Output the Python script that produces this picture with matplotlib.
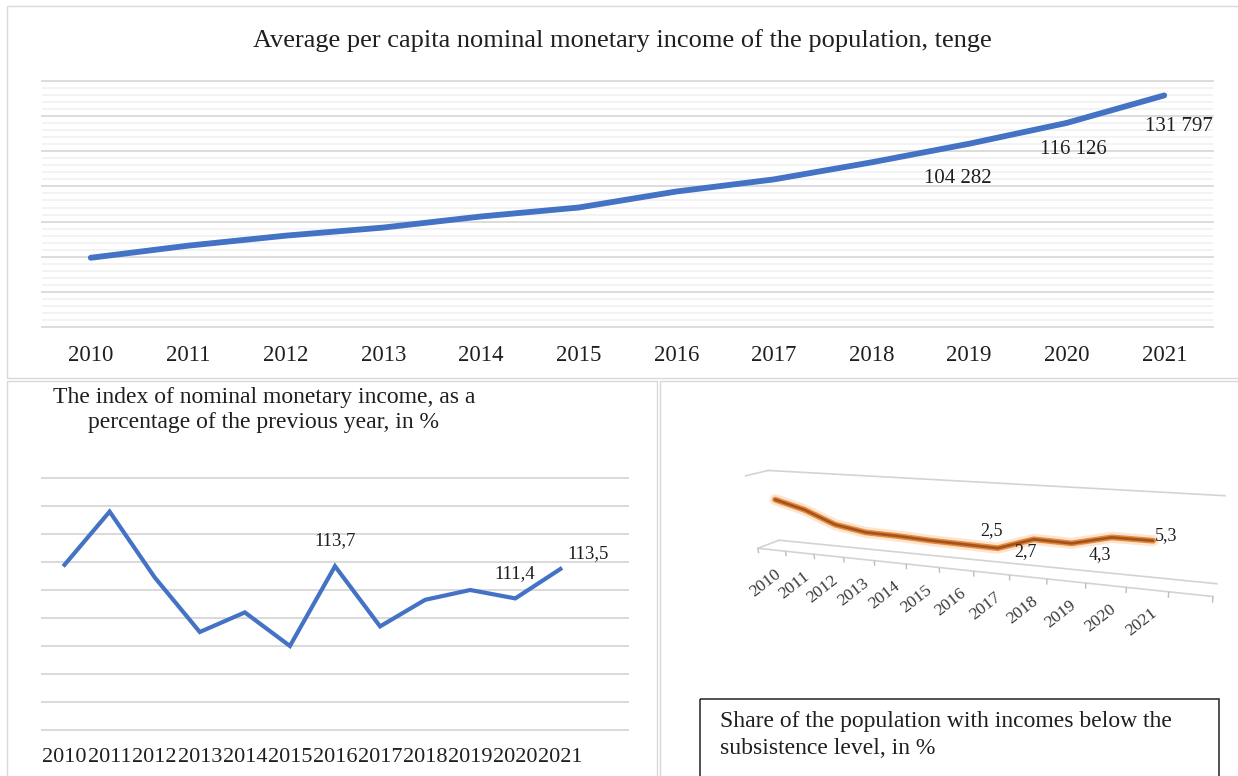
import numpy as np
import matplotlib
matplotlib.use("Agg")
import matplotlib.pyplot as plt
import matplotlib.transforms as mtransforms
from matplotlib.collections import LineCollection
from matplotlib.patches import Rectangle
from matplotlib.ticker import MultipleLocator

# DATA

years = [str(y) for y in range(2010, 2022)]

# average per capita nominal income, tenge
income = [39400, 46300, 52000, 56600, 62900, 68000, 77100, 84000, 93700, 104282, 116126, 131797]
income_labelled = [9, 10, 11]

# index of nominal income, % of previous year
income_index = [113.8, 117.6, 112.9, 109.0, 110.4, 108.0, 113.7, 109.4, 111.3, 112.0, 111.4, 113.5]
index_labelled = [6, 10, 11]

# share of population below subsistence level, %
poverty = [6.5, 5.4, 3.7, 3.0, 2.9, 2.7, 2.6, 2.5, 4.0, 3.9, 5.0, 5.0]
poverty_labelled = [7, 8, 10, 11]
poverty_label_text = ["2,5", "2,7", "4,3", "5,3"]

title_top = "Average per capita nominal monetary income of the population, tenge"
title_left = "The index of nominal monetary income, as a\npercentage of the previous year, in %"
caption_right = "Share of the population with incomes below the\nsubsistence level, in %"

# LAYOUT / STYLE

W, H = 1238, 776
SERIF = "Liberation Serif"
TXT = "#1f1f1f"
BLUE = "#4472C4"
GRID = "#D9D9D9"
plt.rcParams["font.family"] = [SERIF, "DejaVu Serif"]


def px_box(x0, y0, x1, y1):
    return [x0 / W, 1 - y1 / H, (x1 - x0) / W, (y1 - y0) / H]


# Perspective plane -> image pixel transform (for the 3-D looking panel).
class PlaneProjection(mtransforms.Transform):
    input_dims = 2
    output_dims = 2

    def __init__(self, hmat):
        super().__init__()
        self._h = hmat

    def transform_non_affine(self, values):
        pts = np.asarray(values, float)
        flat = pts.ndim == 1
        pts = pts.reshape(-1, 2)
        q = np.column_stack([pts, np.ones(len(pts))]) @ self._h.T
        out = q[:, :2] / q[:, 2:]
        return out[0] if flat else out


def fit_camera(world, image):
    world = np.asarray(world, float)
    image = np.asarray(image, float)
    c = image.mean(axis=0)
    s = image.std()
    norm = np.array([[1 / s, 0, -c[0] / s], [0, 1 / s, -c[1] / s], [0, 0, 1]])
    img_n = (image - c) / s
    rows = []
    for X, (x, y) in zip(np.column_stack([world, np.ones(len(world))]), img_n):
        rows.append(np.r_[X, np.zeros(4), -x * X])
        rows.append(np.r_[np.zeros(4), X, -y * X])
    _, _, vt = np.linalg.svd(np.array(rows))
    return np.linalg.inv(norm) @ vt[-1].reshape(3, 4)


# chart box corners (category u 0..13, depth d 0..1, value v 0..10) -> pixels
CAM = fit_camera(
    [(0, 0, 0), (13, 0, 0), (0, 1, 0), (13, 1, 0), (0, 1, 10), (13, 1, 10), (0, 0, 10), (6.5, 0, 0)],
    [(757, 548), (1213, 596), (780, 540), (1217, 583), (767, 471), (1225, 496), (747, 475), (956, 571)],
)


def depth_plane(d):
    m = np.array([[1, 0, 0], [0, 0, d], [0, 1, 0], [0, 0, 1]], float)
    return PlaneProjection(CAM @ m)


def side_plane(u0):
    m = np.array([[0, 0, u0], [1, 0, 0], [0, 1, 0], [0, 0, 1]], float)
    return PlaneProjection(CAM @ m)


# FIGURE

fig = plt.figure(figsize=(W / 100, H / 100), dpi=100)
fig.patch.set_facecolor("white")

canvas = fig.add_axes([0, 0, 1, 1])
canvas.set_xlim(0, W)
canvas.set_ylim(H, 0)
canvas.axis("off")

# panel frames
for x0, y0, x1, y1 in [(7, 6, 1250, 378), (7, 381, 657, 800), (660, 381, 1250, 800)]:
    canvas.add_patch(Rectangle((x0, y0), x1 - x0, y1 - y0, fill=False,
                               edgecolor=GRID, linewidth=1.0, clip_on=False))

# --- top: average income ---
ax1 = fig.add_axes(px_box(42, 81, 1213, 327))
xs = np.arange(len(years))
ax1.plot(xs, income, color=BLUE, linewidth=4.2, solid_capstyle="round", solid_joinstyle="round")
ax1.set_xlim(-0.5, len(years) - 0.5)
ax1.set_ylim(0, 140000)
ax1.yaxis.set_major_locator(MultipleLocator(20000))
ax1.yaxis.set_minor_locator(MultipleLocator(4000))
ax1.grid(True, which="major", axis="y", color=GRID, linewidth=1.3)
ax1.grid(True, which="minor", axis="y", color="#F2F2F2", linewidth=1.3)
ax1.set_axisbelow(True)
for ln in ax1.get_ygridlines():
    ln.set_clip_on(False)
ax1.set_xticks(xs)
ax1.set_xticklabels(years, fontsize=16.5, color=TXT)
ax1.tick_params(axis="x", length=0, pad=13)
ax1.tick_params(axis="y", which="both", length=0, labelleft=False)
for sp in ax1.spines.values():
    sp.set_visible(False)
ax1.patch.set_alpha(0)

income_offsets = [(-11, -35), (7, -27), (15, -31)]
for i, off in zip(income_labelled, income_offsets):
    ax1.annotate(f"{income[i]:,}".replace(",", " "), (xs[i], income[i]), xytext=off,
                 textcoords="offset pixels", ha="center", va="center", fontsize=15, color=TXT)

canvas.text(622, 41, title_top, ha="center", va="center", fontsize=19, color=TXT)

# --- bottom left: income index ---
ax2 = fig.add_axes(px_box(42, 478, 628, 730))
ax2.plot(xs, income_index, color=BLUE, linewidth=3.0, solid_joinstyle="miter")
ax2.set_xlim(-0.5, len(years) + 0.5)
ax2.set_ylim(102, 120)
ax2.yaxis.set_major_locator(MultipleLocator(2))
ax2.grid(True, axis="y", color=GRID, linewidth=1.4)
ax2.set_axisbelow(True)
for ln in ax2.get_ygridlines():
    ln.set_clip_on(False)
ax2.set_xticks(xs)
ax2.set_xticklabels(years, fontsize=16, color=TXT)
ax2.tick_params(axis="x", length=0, pad=13)
ax2.tick_params(axis="y", length=0, labelleft=False)
for sp in ax2.spines.values():
    sp.set_visible(False)
ax2.patch.set_alpha(0)

index_offsets = [(0, 26), (-1, 25), (28, 15)]
for i, off in zip(index_labelled, index_offsets):
    ax2.annotate(f"{income_index[i]:.1f}".replace(".", ","), (xs[i], income_index[i]), xytext=off,
                 textcoords="offset pixels", ha="center", va="center", fontsize=13.5, color=TXT)

canvas.text(264, 410, title_left, ha="center", va="center", fontsize=17,
            color=TXT, linespacing=1.25)

# --- bottom right: poverty share, drawn in perspective ---
front = depth_plane(0) + canvas.transData
back = depth_plane(1) + canvas.transData
mid = depth_plane(0.5) + canvas.transData
side = side_plane(0) + canvas.transData
n_slots = len(years) + 1
vmax = 10

gray3d = dict(color="#D3D3D3", linewidth=1.2, clip_on=False)
canvas.plot([0, n_slots], [0, 0], transform=front, **gray3d)
canvas.plot([0, n_slots], [0, 0], transform=back, **gray3d)
canvas.plot([0, 1], [0, 0], transform=side, **gray3d)
canvas.plot([0, n_slots], [vmax, vmax], transform=back, **gray3d)
canvas.plot([0, 1], [vmax, vmax], transform=side, **gray3d)
ticks = [[(u, 0), (u, -0.7)] for u in range(n_slots + 1)]
canvas.add_collection(LineCollection(ticks, colors="#BDBDBD", linewidths=1.0,
                                     transform=front, clip_on=False))

ux = xs + 0.5
canvas.plot(ux, poverty, transform=mid, color="#FCE4CF", linewidth=8.0,
            solid_capstyle="round", solid_joinstyle="round", clip_on=False)
canvas.plot(ux, poverty, transform=mid, color="#E58C3E", linewidth=4.2,
            solid_capstyle="round", solid_joinstyle="round", clip_on=False)
canvas.plot(ux, poverty, transform=mid, color="#A4531F", linewidth=2.0,
            solid_capstyle="round", solid_joinstyle="round", clip_on=False)

for u, yr in zip(ux, years):
    canvas.annotate(yr, (u, 0), xycoords=front, xytext=(3, -16), textcoords="offset pixels",
                    rotation=38, rotation_mode="anchor", ha="right", va="top",
                    fontsize=12.5, color="#3a3a3a", annotation_clip=False)

poverty_offsets = [(-6, 18), (-8, -12), (-12, -17), (13, 5)]
for i, txt, off in zip(poverty_labelled, poverty_label_text, poverty_offsets):
    canvas.annotate(txt, (ux[i], poverty[i]), xycoords=mid, xytext=off,
                    textcoords="offset pixels", ha="center", va="center",
                    fontsize=13, color=TXT, annotation_clip=False)

canvas.add_patch(Rectangle((700, 699), 519, 110, fill=False, edgecolor="#222222",
                           linewidth=1.1, clip_on=False))
canvas.text(720, 735, caption_right, ha="left", va="center", fontsize=17,
            color=TXT, linespacing=1.4)

fig.savefig("out.png", dpi=100)
